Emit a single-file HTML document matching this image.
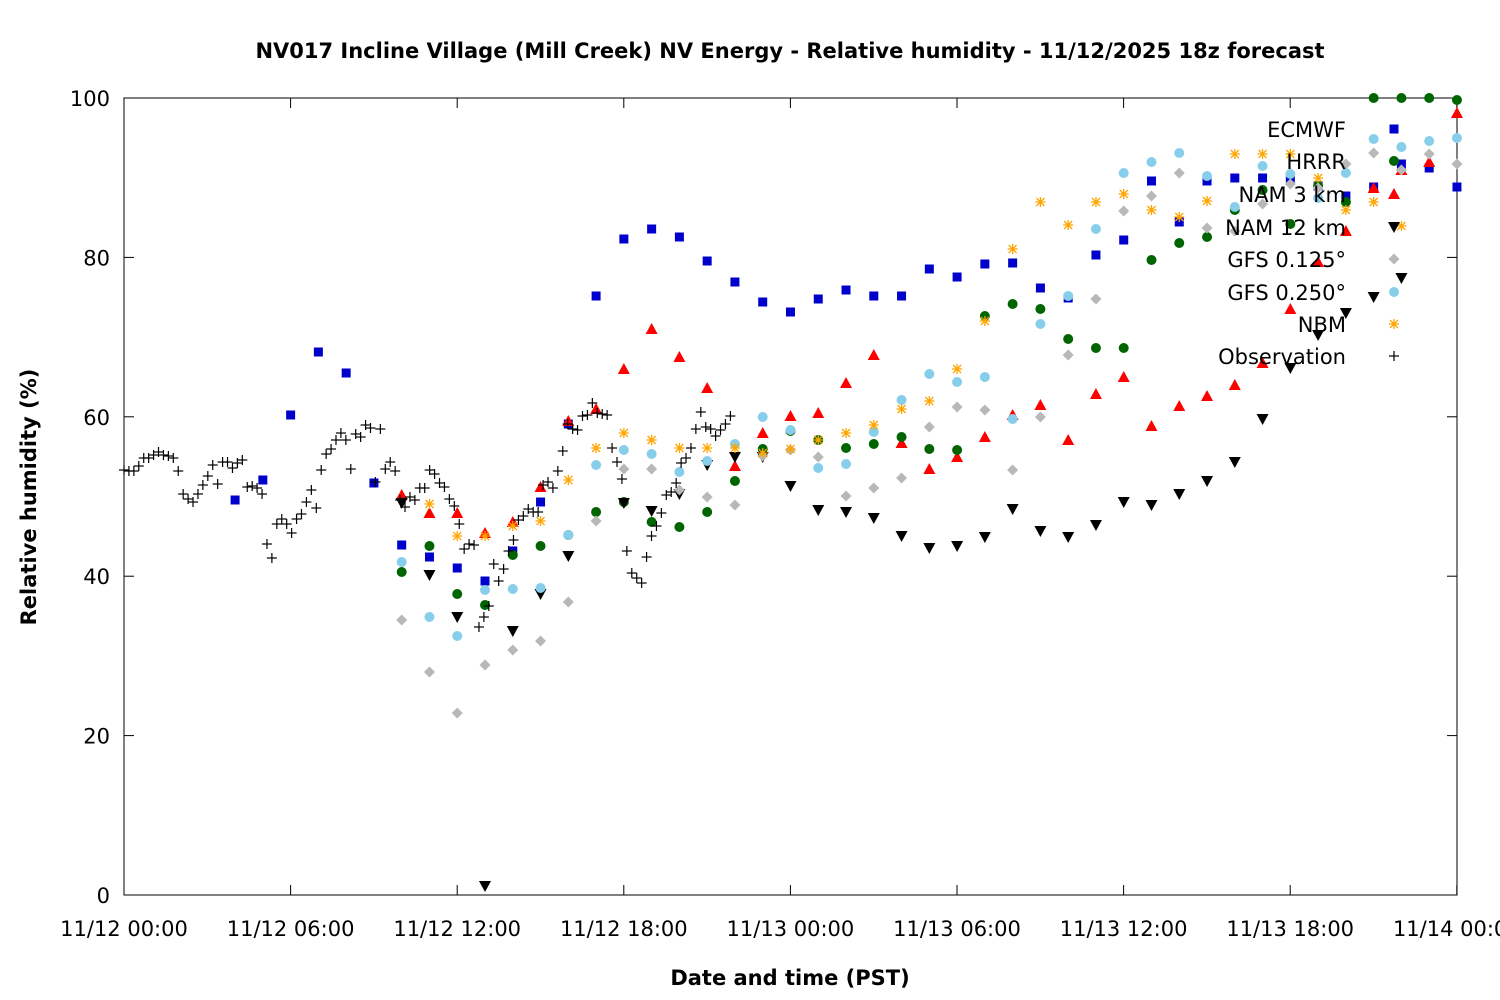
<!DOCTYPE html>
<html><head><meta charset="utf-8">
<style>
body{margin:0;background:#fff;}
svg{display:block;font-family:"DejaVu Sans","Liberation Sans",sans-serif;}
</style></head><body>
<svg id="c" width="1500" height="1000" xmlns="http://www.w3.org/2000/svg">
<rect width="1500" height="1000" fill="#fff"/>
<text x="790" y="58" text-anchor="middle" font-size="21" font-weight="bold">NV017 Incline Village (Mill Creek) NV Energy - Relative humidity - 11/12/2025 18z forecast</text>
<text transform="translate(36,497) rotate(-90)" text-anchor="middle" font-size="21" font-weight="bold">Relative humidity (%)</text>
<text x="790" y="985" text-anchor="middle" font-size="21" font-weight="bold">Date and time (PST)</text>
<rect x="124" y="98" width="1333" height="797" fill="none" stroke="#000" stroke-width="1"/>
<g id="g"></g>
</svg>
<script>
var g=document.getElementById('g'),h='';
function Y(v){return 895-v*7.97;}
for(var v=0;v<=100;v+=20){var y=Y(v);h+='<line x1="124" x2="134" y1="'+y+'" y2="'+y+'" stroke="#000"/><line x1="1447" x2="1457" y1="'+y+'" y2="'+y+'" stroke="#000"/><text x="110" y="'+(y+8)+'" text-anchor="end" font-size="21">'+v+'</text>';}
var lab=['11/12 00:00','11/12 06:00','11/12 12:00','11/12 18:00','11/13 00:00','11/13 06:00','11/13 12:00','11/13 18:00','11/14 00:00'];
for(var i=0;i<9;i++){var x=124+i*166.6;h+='<line x1="'+x+'" x2="'+x+'" y1="895" y2="885" stroke="#000"/><line x1="'+x+'" x2="'+x+'" y1="98" y2="108" stroke="#000"/><text x="'+x+'" y="936" text-anchor="middle" font-size="21">'+lab[i]+'</text>';}
function M(t,x,y){
 if(t=='sq')return '<rect x="'+(x-4.5)+'" y="'+(y-4.5)+'" width="9" height="9" fill="#0000cc"/>';
 if(t=='ci')return '<circle cx="'+x+'" cy="'+y+'" r="5" fill="#006400"/>';
 if(t=='tu')return '<polygon points="'+x+','+(y-6)+' '+(x-6)+','+(y+5)+' '+(x+6)+','+(y+5)+'" fill="#f00"/>';
 if(t=='td')return '<polygon points="'+x+','+(y+6)+' '+(x-6)+','+(y-5)+' '+(x+6)+','+(y-5)+'" fill="#000"/>';
 if(t=='di')return '<polygon points="'+x+','+(y-5.5)+' '+(x+5.5)+','+y+' '+x+','+(y+5.5)+' '+(x-5.5)+','+y+'" fill="#b8b8b8"/>';
 if(t=='pe')return '<circle cx="'+x+'" cy="'+y+'" r="5" fill="#87ceeb"/>';
 if(t=='as')return '<g stroke="#ffa500" stroke-width="1.3"><line x1="'+(x-5)+'" x2="'+(x+5)+'" y1="'+y+'" y2="'+y+'"/><line x1="'+x+'" x2="'+x+'" y1="'+(y-5)+'" y2="'+(y+5)+'"/><line x1="'+(x-4)+'" x2="'+(x+4)+'" y1="'+(y-4)+'" y2="'+(y+4)+'"/><line x1="'+(x-4)+'" x2="'+(x+4)+'" y1="'+(y+4)+'" y2="'+(y-4)+'"/></g>';
 if(t=='pl')return '<g stroke="#000" stroke-width="1.2"><line x1="'+(x-5)+'" x2="'+(x+5)+'" y1="'+y+'" y2="'+y+'"/><line x1="'+x+'" x2="'+x+'" y1="'+(y-5)+'" y2="'+(y+5)+'"/></g>';
}
function S(t,h0,ys){var s='';for(var i=0;i<ys.length;i++){if(ys[i]!=null)s+=M(t,124+(h0+i)*27.77,ys[i]);}return s;}
h+=S('sq',4,[500,480,415,352,373,483,545,557,568,581,551,502,424,296,239,229,237,261,282,302,312,299,290,296,296,269,277,264,263,288,298,255,240,181,222,181,178,178,178,186,196,187,164,168,187]);
h+=S('tu',10,[495,513,513,533,522,487,421,409,369,329,357,388,466,433,416,413,383,355,443,469,457,437,415,405,440,394,377,426,406,396,385,363,309,262,231,188,170,162,113]);
h+=S('ci',10,[572,546,594,605,555,546,535,512,502,522,527,512,481,449,431,440,448,444,437,449,450,316,304,309,339,348,348,260,243,237,210,190,224,186,202,98,98,98,100]);
h+=S('td',10,[503,575,617,886,631,594,556,null,503,511,494,465,457,457,486,510,512,518,536,548,546,537,509,531,537,525,502,505,494,481,462,419,368,335,313,297,278]);
h+=S('di',10,[620,672,713,665,650,641,602,521,469,469,490,497,505,456,450,457,496,488,478,427,407,410,470,417,355,299,211,196,173,228,231,204,184,188,164,153,170,154,164]);
h+=S('pe',10,[562,617,636,590,589,588,535,465,450,454,472,461,444,417,430,468,464,432,400,374,382,377,419,324,296,229,173,162,153,176,207,166,174,198,173,139,147,141,138]);
h+=S('as',11,[504,536,536,526,521,480,448,433,440,448,448,448,453,449,440,433,425,409,401,369,321,249,202,225,202,194,210,217,201,154,154,154,178,210,202,226]);
var ob=[470,471,471,466,458,458,455,452,455,456,458,471,494,499,502,494,485,476,465,484,462,462,468,463,460,487,486,488,494,544,558,524,519,524,533,519,514,502,490,508,470,454,449,440,433,440,469,434,437,425,428,482,429,469,462,471,500,507,497,500,488,488,470,474,483,487,499,506,524,549,544,545,627,617,606,564,581,569,551,540,520,516,509,512,512,485,482,488,471,451,424,429,430,416,415,403,413,414,415,448,462,479,551,573,578,583,557,536,526,513,495,492,483,463,458,448,429,412,427,429,436,430,424,416];
for(var i=0;i<ob.length;i++)h+=M('pl',124+i*4.93,ob[i]);
var L=[['ECMWF','sq',129],['HRRR','ci',161],['NAM 3 km','tu',194],['NAM 12 km','td',227],['GFS 0.125°','di',259],['GFS 0.250°','pe',292],['NBM','as',324],['Observation','pl',356]];
for(var i=0;i<L.length;i++){h+='<text x="1346" y="'+(L[i][2]+8)+'" text-anchor="end" font-size="21">'+L[i][0]+'</text>'+M(L[i][1],1394,L[i][2]);}
g.innerHTML=h;
</script>
</body></html>
